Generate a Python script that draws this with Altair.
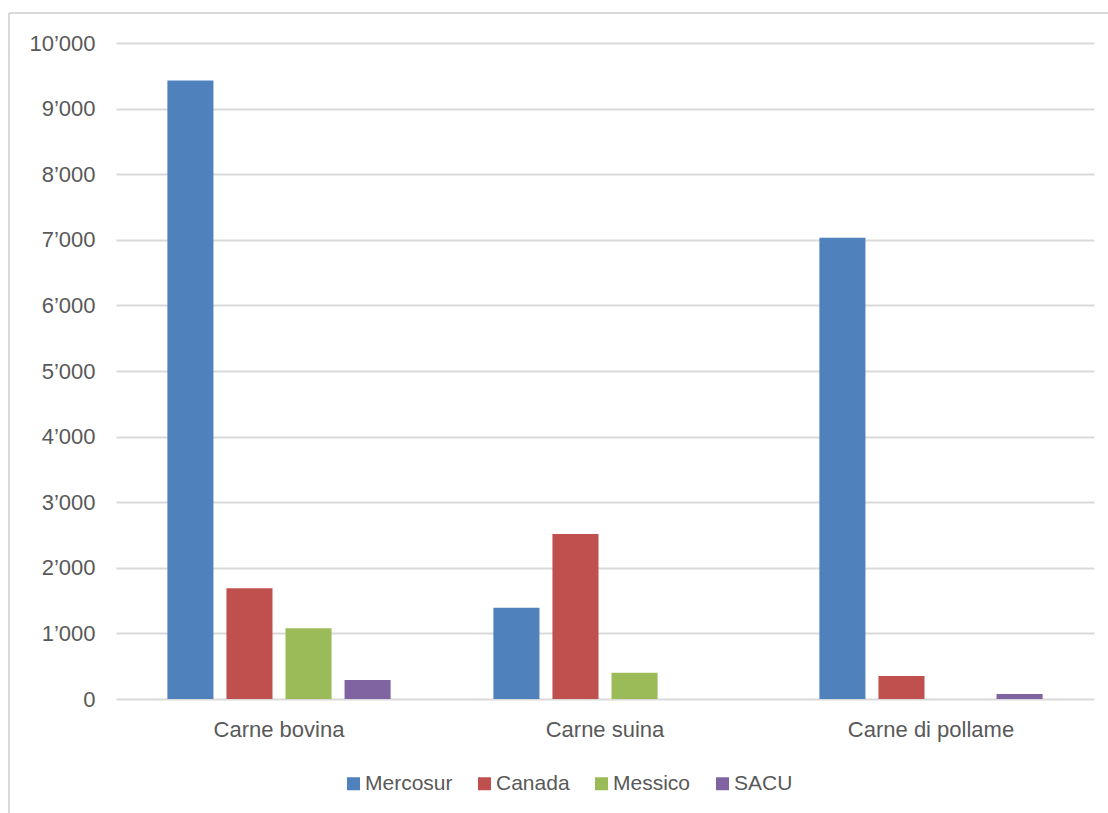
import altair as alt
import pandas as pd

categories = ["Carne bovina", "Carne suina", "Carne di pollame"]
series = ["Mercosur", "Canada", "Messico", "SACU"]
mercosur = [9430, 1390, 7030]
canada = [1690, 2515, 350]
messico = [1080, 400, 0]
sacu = [290, 0, 75]
colors = ["#4F81BD", "#C0504D", "#9BBB59", "#8064A2"]
y_ticks = list(range(0, 10001, 1000))

rows = []
for s, vals in zip(series, [mercosur, canada, messico, sacu]):
    for c, v in zip(categories, vals):
        rows.append({"Categoria": c, "Serie": s, "Valore": v})
df = pd.DataFrame(rows)

FONT = "Liberation Sans"

bars = alt.Chart(df).mark_bar().encode(
    x=alt.X("Categoria:N", sort=categories, title=None,
            scale=alt.Scale(paddingInner=0, paddingOuter=0),
            axis=alt.Axis(labelAngle=0, domain=False, ticks=False, labelPadding=20,
                          labelFontSize=22, labelColor="#595959", labelFont=FONT)),
    xOffset=alt.XOffset("Serie:N", sort=series,
                        scale=alt.Scale(paddingInner=0.22, paddingOuter=0.87)),
    y=alt.Y("Valore:Q", title=None,
            scale=alt.Scale(domain=[0, 10000], nice=False),
            axis=alt.Axis(values=y_ticks, domain=False, ticks=False, labelPadding=21,
                          labelFontSize=22, labelColor="#595959", labelFont=FONT,
                          gridColor="#d9d9d9", gridWidth=2,
                          labelExpr="replace(format(datum.value, ','), ',', '\u2019')")),
    color=alt.Color("Serie:N", sort=series,
                    scale=alt.Scale(domain=series, range=colors),
                    legend=alt.Legend(title=None, orient="none", direction="horizontal",
                                      legendX=227, legendY=730,
                                      symbolType="square", symbolSize=169,
                                      symbolStrokeWidth=0,
                                      labelFontSize=21, labelColor="#595959", labelFont=FONT,
                                      labelOffset=1, columnPadding=21)),
)

frame_df = pd.DataFrame({"k": [0]})
frame_v = alt.Chart(frame_df).mark_rule(color="#d9d9d9", strokeWidth=2).encode(
    x=alt.value(-107), y=alt.value(-30), y2=alt.value(800))
frame_h = alt.Chart(frame_df).mark_rule(color="#d9d9d9", strokeWidth=2).encode(
    x=alt.value(-107), x2=alt.value(1000), y=alt.value(-30))

chart = alt.layer(frame_v, frame_h, bars).properties(
    width=978, height=656,
    autosize=alt.AutoSizeParams(type="none"),
    padding={"left": 116, "top": 43, "right": 14, "bottom": 114},
    background="white",
).configure_view(stroke=None)

chart.save("out.html", embed_options={"renderer": "svg", "actions": False})
